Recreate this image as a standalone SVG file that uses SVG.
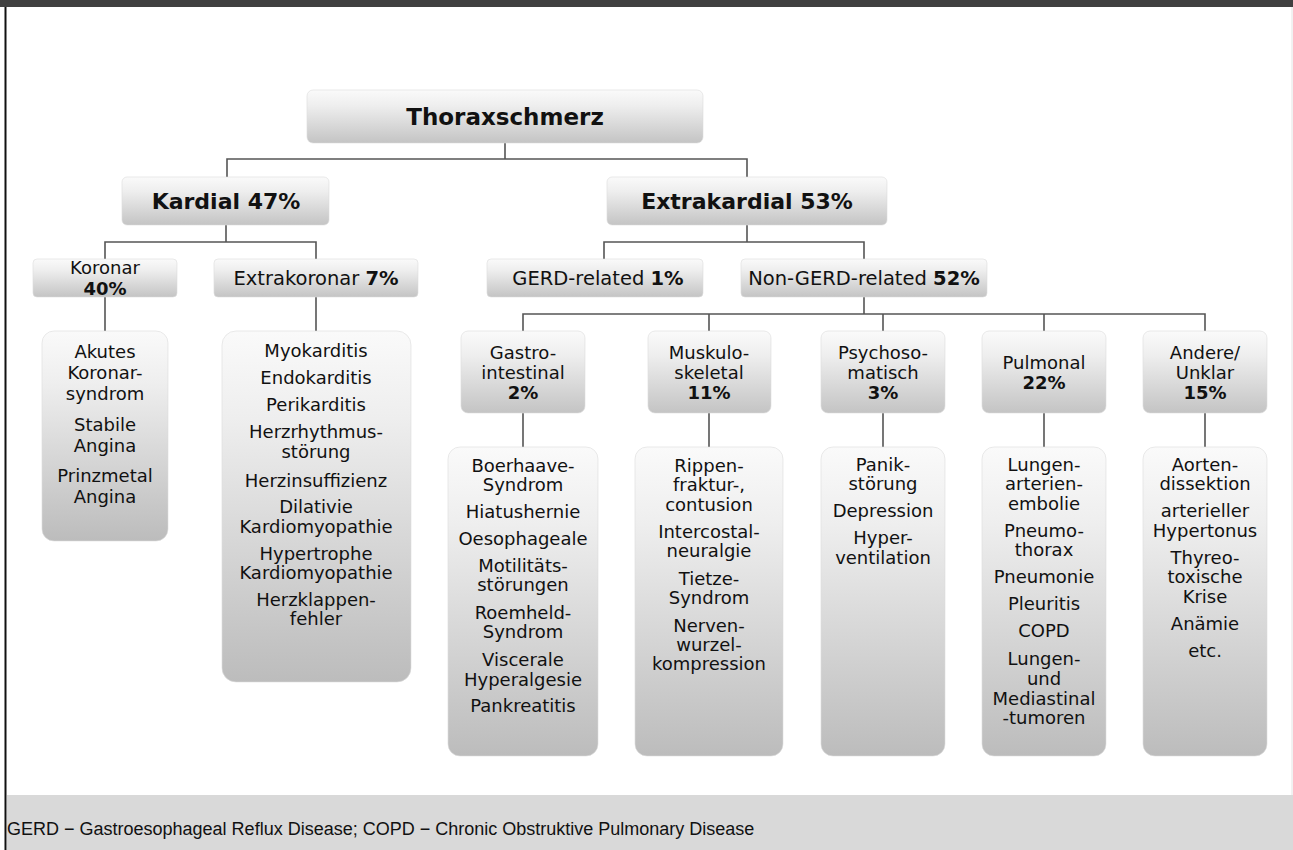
<svg xmlns="http://www.w3.org/2000/svg" width="1293" height="850" viewBox="0 0 1293 850">
  <defs>
    <linearGradient id="boxFill" x1="0" y1="0" x2="0" y2="1">
      <stop offset="0" stop-color="#fafafa"/>
      <stop offset="0.3" stop-color="#eeeeee"/>
      <stop offset="1" stop-color="#c4c4c4"/>
    </linearGradient>
    <linearGradient id="listFill" x1="0" y1="0" x2="0" y2="1">
      <stop offset="0" stop-color="#fafafa"/>
      <stop offset="0.25" stop-color="#eeeeee"/>
      <stop offset="1" stop-color="#bcbcbc"/>
    </linearGradient>
    <style>
      .box { fill: url(#boxFill); stroke: #dcdcdc; stroke-width: 0.6; }
      .list { fill: url(#listFill); stroke: #dcdcdc; stroke-width: 0.6; }
      .wire { fill: none; stroke: #555555; stroke-width: 1.6; }
      text { font-family: "DejaVu Sans", Verdana, sans-serif; fill: #111111; text-anchor: middle; }
      .t18 { font-size: 18px; }
      .t19 { font-size: 19.5px; }
      .b { font-weight: bold; }
      .h22 { font-size: 22px; font-weight: bold; }
      .h23 { font-size: 23px; font-weight: bold; }
      .foot { font-family: "Liberation Sans", Arial, sans-serif; font-size: 18px; text-anchor: start; fill: #111111; }
    </style>
  </defs>

  <!-- page frame -->
  <rect x="0" y="0" width="1293" height="850" fill="#ffffff"/>
  <rect x="0" y="0" width="1293" height="7" fill="#404040"/>
  <line x1="5.5" y1="7" x2="5.5" y2="850" stroke="#111111" stroke-width="2"/>
  <line x1="1292" y1="7" x2="1292" y2="850" stroke="#e4e4e4" stroke-width="1"/>

  <!-- connectors -->
  <g id="connectors">
    <path class="wire" d="M505 143 V159 M227 177 V159 H747 V177"/>
    <path class="wire" d="M226 225 V242 M105 259 V242 H316 V259"/>
    <path class="wire" d="M105 297 V331 M316 297 V331"/>
    <path class="wire" d="M747 225 V242 M604 259 V242 H864 V259"/>
    <path class="wire" d="M864 297 V314 M523 331 V314 H1205 V331 M709 314 V331 M883 314 V331 M1044 314 V331"/>
    <path class="wire" d="M523 413 V447 M709 413 V447 M883 413 V447 M1044 413 V447 M1205 413 V447"/>
  </g>

  <!-- root -->
  <g id="thoraxschmerz">
    <rect class="box" x="307" y="90" width="396" height="53" rx="6"/>
    <text class="h23" x="505" y="125">Thoraxschmerz</text>
  </g>

  <!-- level 1 -->
  <g id="kardial">
    <rect class="box" x="122" y="177" width="207" height="48" rx="5"/>
    <text class="h22" x="226" y="209">Kardial 47%</text>
  </g>
  <g id="extrakardial">
    <rect class="box" x="607" y="177" width="280" height="48" rx="5"/>
    <text class="h22" x="747" y="209">Extrakardial 53%</text>
  </g>

  <!-- level 2 -->
  <g id="koronar">
    <rect class="box" x="33" y="259" width="144" height="38" rx="4"/>
    <text class="t18" x="105" y="274">Koronar</text>
    <text class="t18 b" x="105" y="295">40%</text>
  </g>
  <g id="extrakoronar">
    <rect class="box" x="214" y="259" width="204" height="38" rx="4"/>
    <text class="t19" x="316" y="285">Extrakoronar <tspan class="b">7%</tspan></text>
  </g>
  <g id="gerd">
    <rect class="box" x="487" y="259" width="216" height="38" rx="4"/>
    <text class="t19" x="598" y="285">GERD-related <tspan class="b">1%</tspan></text>
  </g>
  <g id="non-gerd">
    <rect class="box" x="741" y="259" width="246" height="38" rx="4"/>
    <text class="t19" x="864" y="285">Non-GERD-related <tspan class="b">52%</tspan></text>
  </g>

  <!-- cardiac lists -->
  <g id="koronar-list">
    <rect class="list" x="42" y="331" width="126" height="210" rx="12"/>
    <text class="t18" x="105" y="358">Akutes</text>
    <text class="t18" x="105" y="379">Koronar-</text>
    <text class="t18" x="105" y="400">syndrom</text>
    <text class="t18" x="105" y="431">Stabile</text>
    <text class="t18" x="105" y="452">Angina</text>
    <text class="t18" x="105" y="482">Prinzmetal</text>
    <text class="t18" x="105" y="503">Angina</text>
  </g>
  <g id="extrakoronar-list">
    <rect class="list" x="222" y="331" width="189" height="351" rx="14"/>
    <text class="t18" x="316" y="357">Myokarditis</text>
    <text class="t18" x="316" y="384">Endokarditis</text>
    <text class="t18" x="316" y="411">Perikarditis</text>
    <text class="t18" x="316" y="438">Herzrhythmus-</text>
    <text class="t18" x="316" y="458">störung</text>
    <text class="t18" x="316" y="487">Herzinsuffizienz</text>
    <text class="t18" x="316" y="513">Dilativie</text>
    <text class="t18" x="316" y="533">Kardiomyopathie</text>
    <text class="t18" x="316" y="560">Hypertrophe</text>
    <text class="t18" x="316" y="579">Kardiomyopathie</text>
    <text class="t18" x="316" y="606">Herzklappen-</text>
    <text class="t18" x="316" y="625">fehler</text>
  </g>

  <!-- non-GERD categories -->
  <g id="gastro">
    <rect class="box" x="461" y="331" width="124" height="82" rx="7"/>
    <text class="t18" x="523" y="359">Gastro-</text>
    <text class="t18" x="523" y="379">intestinal</text>
    <text class="t18 b" x="523" y="399">2%</text>
  </g>
  <g id="muskulo">
    <rect class="box" x="648" y="331" width="123" height="82" rx="7"/>
    <text class="t18" x="709" y="359">Muskulo-</text>
    <text class="t18" x="709" y="379">skeletal</text>
    <text class="t18 b" x="709" y="399">11%</text>
  </g>
  <g id="psycho">
    <rect class="box" x="821" y="331" width="124" height="82" rx="7"/>
    <text class="t18" x="883" y="359">Psychoso-</text>
    <text class="t18" x="883" y="379">matisch</text>
    <text class="t18 b" x="883" y="399">3%</text>
  </g>
  <g id="pulmonal">
    <rect class="box" x="982" y="331" width="124" height="82" rx="7"/>
    <text class="t18" x="1044" y="369">Pulmonal</text>
    <text class="t18 b" x="1044" y="389">22%</text>
  </g>
  <g id="andere">
    <rect class="box" x="1143" y="331" width="124" height="82" rx="7"/>
    <text class="t18" x="1205" y="359">Andere/</text>
    <text class="t18" x="1205" y="379">Unklar</text>
    <text class="t18 b" x="1205" y="399">15%</text>
  </g>

  <!-- non-GERD lists -->
  <g id="gastro-list">
    <rect class="list" x="448" y="447" width="150" height="309" rx="12"/>
    <text class="t18" x="523" y="472">Boerhaave-</text>
    <text class="t18" x="523" y="491">Syndrom</text>
    <text class="t18" x="523" y="518">Hiatushernie</text>
    <text class="t18" x="523" y="545">Oesophageale</text>
    <text class="t18" x="523" y="572">Motilitäts-</text>
    <text class="t18" x="523" y="591">störungen</text>
    <text class="t18" x="523" y="619">Roemheld-</text>
    <text class="t18" x="523" y="638">Syndrom</text>
    <text class="t18" x="523" y="666">Viscerale</text>
    <text class="t18" x="523" y="686">Hyperalgesie</text>
    <text class="t18" x="523" y="712">Pankreatitis</text>
  </g>
  <g id="muskulo-list">
    <rect class="list" x="635" y="447" width="148" height="309" rx="12"/>
    <text class="t18" x="709" y="472">Rippen-</text>
    <text class="t18" x="709" y="491">fraktur-,</text>
    <text class="t18" x="709" y="511">contusion</text>
    <text class="t18" x="709" y="538">Intercostal-</text>
    <text class="t18" x="709" y="557">neuralgie</text>
    <text class="t18" x="709" y="585">Tietze-</text>
    <text class="t18" x="709" y="604">Syndrom</text>
    <text class="t18" x="709" y="632">Nerven-</text>
    <text class="t18" x="709" y="651">wurzel-</text>
    <text class="t18" x="709" y="670">kompression</text>
  </g>
  <g id="psycho-list">
    <rect class="list" x="821" y="447" width="124" height="309" rx="12"/>
    <text class="t18" x="883" y="471">Panik-</text>
    <text class="t18" x="883" y="490">störung</text>
    <text class="t18" x="883" y="517">Depression</text>
    <text class="t18" x="883" y="544">Hyper-</text>
    <text class="t18" x="883" y="564">ventilation</text>
  </g>
  <g id="pulmonal-list">
    <rect class="list" x="982" y="447" width="124" height="309" rx="12"/>
    <text class="t18" x="1044" y="471">Lungen-</text>
    <text class="t18" x="1044" y="490">arterien-</text>
    <text class="t18" x="1044" y="510">embolie</text>
    <text class="t18" x="1044" y="537">Pneumo-</text>
    <text class="t18" x="1044" y="556">thorax</text>
    <text class="t18" x="1044" y="583">Pneumonie</text>
    <text class="t18" x="1044" y="610">Pleuritis</text>
    <text class="t18" x="1044" y="637">COPD</text>
    <text class="t18" x="1044" y="665">Lungen-</text>
    <text class="t18" x="1044" y="685">und</text>
    <text class="t18" x="1044" y="705">Mediastinal</text>
    <text class="t18" x="1044" y="724">-tumoren</text>
  </g>
  <g id="andere-list">
    <rect class="list" x="1143" y="447" width="124" height="309" rx="12"/>
    <text class="t18" x="1205" y="471">Aorten-</text>
    <text class="t18" x="1205" y="490">dissektion</text>
    <text class="t18" x="1205" y="517">arterieller</text>
    <text class="t18" x="1205" y="537">Hypertonus</text>
    <text class="t18" x="1205" y="564">Thyreo-</text>
    <text class="t18" x="1205" y="583">toxische</text>
    <text class="t18" x="1205" y="603">Krise</text>
    <text class="t18" x="1205" y="630">Anämie</text>
    <text class="t18" x="1205" y="657">etc.</text>
  </g>

  <!-- footnote band -->
  <rect x="7" y="795" width="1286" height="55" fill="#d9d9d9"/>
  <text class="foot" x="7" y="835">GERD − Gastroesophageal Reflux Disease; COPD − Chronic Obstruktive Pulmonary Disease</text>
</svg>
